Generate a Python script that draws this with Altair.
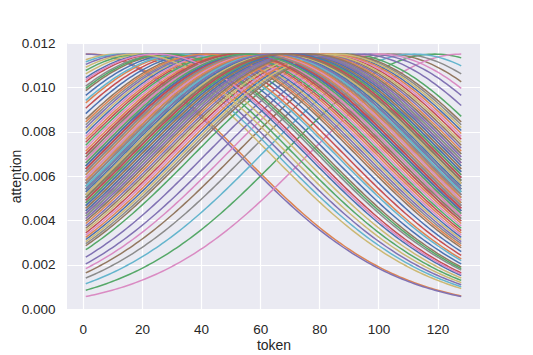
import altair as alt
import pandas as pd

# attention of one curve vs distance (grid steps) from its peak, read from the lowest (pink) curve
PROFILE = [0.011500, 0.011498, 0.011491, 0.011481, 0.011466, 0.011447, 0.011424, 0.011397, 0.011365, 0.011330,
           0.011290, 0.011247, 0.011199, 0.011148, 0.011092, 0.011033, 0.010970, 0.010904, 0.010834, 0.010760,
           0.010683, 0.010603, 0.010519, 0.010433, 0.010343, 0.010250, 0.010154, 0.010055, 0.009954, 0.009850,
           0.009744, 0.009635, 0.009524, 0.009410, 0.009295, 0.009178, 0.009058, 0.008937, 0.008815, 0.008691,
           0.008565, 0.008438, 0.008310, 0.008181, 0.008051, 0.007920, 0.007789, 0.007657, 0.007524, 0.007391,
           0.007257, 0.007123, 0.006990, 0.006856, 0.006722, 0.006588, 0.006455, 0.006322, 0.006190, 0.006058,
           0.005927, 0.005796, 0.005666, 0.005537, 0.005409, 0.005282, 0.005156, 0.005031, 0.004908, 0.004786,
           0.004665, 0.004545, 0.004427, 0.004310, 0.004195, 0.004082, 0.003970, 0.003859, 0.003751, 0.003644,
           0.003539, 0.003435, 0.003334, 0.003234, 0.003136, 0.003040, 0.002946, 0.002853, 0.002763, 0.002674,
           0.002588, 0.002503, 0.002420, 0.002339, 0.002260, 0.002182, 0.002107, 0.002033, 0.001962, 0.001892,
           0.001824, 0.001757, 0.001693, 0.001630, 0.001569, 0.001510, 0.001452, 0.001397, 0.001342, 0.001290,
           0.001239, 0.001189, 0.001141, 0.001095, 0.001050, 0.001007, 0.000965, 0.000925, 0.000885, 0.000848,
           0.000811, 0.000776, 0.000742, 0.000709, 0.000678, 0.000647, 0.000618, 0.000590, 0.000563]

# token grid (1 .. 128)
TOKENS = [1 + k * 127 / 128 for k in range(129)]

# peak position of each curve (index on the token grid), in plotting order
PEAKS = [56, 1, 119, 48, 0, 103, 128, 107, 11, 112,
         62, 70, 89, 36, 97, 66, 100, 52, 44, 13,
         31, 58, 74, 81, 93, 40, 60, 68, 21, 76,
         45, 34, 64, 54, 15, 79, 50, 27, 72, 61,
         84, 47, 19, 69, 57, 29, 75, 42, 65, 53,
         38, 71, 59, 25, 78, 63, 46, 86, 55, 33,
         67, 51, 28, 73, 43, 56, 82, 61, 17, 70,
         23, 77, 49, 62, 58, 87, 54, 66, 80, 64,
         72, 41, 64, 57, 68, 53, 24, 74, 60, 59,
         65, 83, 67, 57, 75, 71, 55, 62, 85, 63,
         56, 59, 69, 52, 73, 76, 60, 58, 66, 63,
         70, 61, 55, 68, 64, 67]

PALETTE = ["#4C72B0", "#DD8452", "#55A868", "#C44E52", "#8172B3",
           "#937860", "#DA8BC3", "#8C8C8C", "#CCB974", "#64B5CD"]

X_TICKS = [0, 20, 40, 60, 80, 100, 120]
Y_TICKS = [0.000, 0.002, 0.004, 0.006, 0.008, 0.010, 0.012]

rows = []
for i, j in enumerate(PEAKS):
    for k, t in enumerate(TOKENS):
        rows.append({"line": i, "token": t, "attention": PROFILE[abs(k - j)],
                     "color": PALETTE[i % len(PALETTE)]})
df = pd.DataFrame(rows)

FONT = "Liberation Sans"
TXT = "#262626"

chart = alt.Chart(df).mark_line(strokeWidth=1.5, clip=True).encode(
    x=alt.X("token:Q",
            scale=alt.Scale(domain=[-5.35, 134.35], nice=False, zero=False),
            axis=alt.Axis(values=X_TICKS, title="token", format="d",
                          labelPadding=13, titlePadding=3)),
    y=alt.Y("attention:Q",
            scale=alt.Scale(domain=[0, 0.012], nice=False),
            axis=alt.Axis(values=Y_TICKS, title="attention", format=".3f",
                          labelPadding=12, titlePadding=-2.5)),
    color=alt.Color("color:N", scale=None),
    detail="line:N",
).properties(
    width=413, height=266,
    autosize=alt.AutoSizeParams(type="none"),
    padding={"left": 59, "top": 35, "right": 40, "bottom": 46},
).configure_view(
    fill="#EAEAF2", strokeWidth=0
).configure_axis(
    domain=False, ticks=False, tickSize=0,
    grid=True, gridColor="#FFFFFF", gridWidth=1.2,
    labelFont=FONT, labelFontSize=13.5, labelColor=TXT,
    titleFont=FONT, titleFontSize=14, titleColor=TXT, titleFontWeight="normal",
    labelFlush=False, labelOverlap=False,
)

chart.save("out.html", embed_options={"renderer": "svg", "actions": False})
